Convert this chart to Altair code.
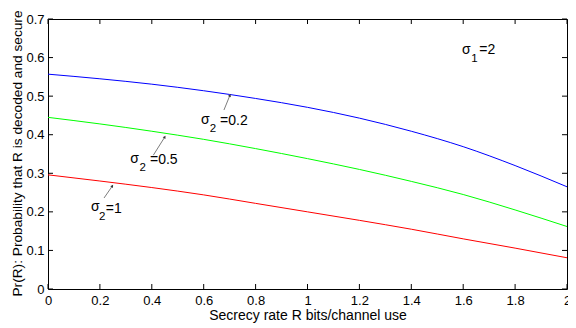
import altair as alt
import pandas as pd

# ---- data ----
rate = [0.0, 0.2, 0.4, 0.6, 0.8, 1.0, 1.2, 1.4, 1.6, 1.8, 2.0]
pr_s02 = [0.557, 0.545, 0.531, 0.514, 0.494, 0.471, 0.443, 0.409, 0.369, 0.320, 0.265]
pr_s05 = [0.445, 0.428, 0.409, 0.388, 0.364, 0.338, 0.310, 0.279, 0.245, 0.205, 0.162]
pr_s1 = [0.296, 0.280, 0.263, 0.244, 0.222, 0.200, 0.178, 0.155, 0.130, 0.106, 0.081]
series_names = ["s02", "s05", "s1"]
series_colors = ["#0000ff", "#00ff00", "#ff0000"]

x_ticks = [0, 0.2, 0.4, 0.6, 0.8, 1.0, 1.2, 1.4, 1.6, 1.8, 2.0]
y_ticks = [0, 0.1, 0.2, 0.3, 0.4, 0.5, 0.6, 0.7]

# annotation texts (sigma, subscript, rest) and their anchors (data coords)
sig_x = [0.590, 0.317, 0.166, 1.595]
sig_y = [0.4265, 0.3254, 0.2022, 0.6093]
sub_txt = ["2", "2", "2", "1"]
sub_x = [0.6235, 0.353, 0.197, 1.631]
sub_y = [0.407, 0.3047, 0.1789, 0.5893]
rest_txt = ["=0.2", "=0.5", "=1", "=2"]
rest_x = [0.663, 0.393, 0.2228, 1.662]
rest_y = [0.4252, 0.3233, 0.1963, 0.6085]

arrow_x = [0.678, 0.406, 0.216]
arrow_y = [0.464, 0.347, 0.236]
arrow_x2 = [0.701, 0.450, 0.248]
arrow_y2 = [0.502, 0.394, 0.267]
arrow_ang = [22, 32, 33]

W, H = 519, 270
FONT = "Liberation Sans"

rows = []
for name, vals in zip(series_names, [pr_s02, pr_s05, pr_s1]):
    for r, v in zip(rate, vals):
        rows.append({"R": r, "P": v, "s": name})
df = pd.DataFrame(rows)

xs = alt.Scale(domain=[0, 2], nice=False, zero=False)
ys = alt.Scale(domain=[0, 0.7], nice=False, zero=False)

x_axis = alt.Axis(values=x_ticks, title="Secrecy rate R bits/channel use",
                  labelExpr="datum.value == 0 ? '0' : format(datum.value, '.1~f')",
                  ticks=False, domain=False, grid=False, labelPadding=5,
                  titleX=W / 2, titleY=30, titleBaseline="alphabetic",
                  labelFlush=False, labelOverlap=False)
y_axis = alt.Axis(values=y_ticks, title="Pr(R): Probability that R is decoded and secure",
                  labelExpr="datum.value == 0 ? '0' : format(datum.value, '.1f')",
                  ticks=False, domain=False, grid=False, labelPadding=4,
                  titleX=-27, titleY=134, titleBaseline="alphabetic", titleAngle=270,
                  titleFontSize=13.7,
                  labelFlush=False, labelOverlap=False)


def X(field):
    return alt.X(field, scale=xs, axis=x_axis)


def Y(field):
    return alt.Y(field, scale=ys, axis=y_axis)


lines = alt.Chart(df).mark_line(strokeWidth=1, interpolate="monotone").encode(
    x=X("R:Q"),
    y=Y("P:Q"),
    color=alt.Color("s:N", scale=alt.Scale(domain=series_names, range=series_colors), legend=None),
)

xt = pd.DataFrame({"v": x_ticks})
yt = pd.DataFrame({"v": y_ticks})
tick_style = dict(color="black", strokeWidth=1)
xb = alt.Chart(xt).mark_rule(**tick_style).encode(x=X("v:Q"), y=alt.value(H), y2=alt.value(H - 5))
xtp = alt.Chart(xt).mark_rule(**tick_style).encode(x=X("v:Q"), y=alt.value(0), y2=alt.value(5))
yl = alt.Chart(yt).mark_rule(**tick_style).encode(y=Y("v:Q"), x=alt.value(0), x2=alt.value(5))
yr = alt.Chart(yt).mark_rule(**tick_style).encode(y=Y("v:Q"), x=alt.value(W), x2=alt.value(W - 5))

ann = pd.DataFrame({"sx": sig_x, "sy": sig_y, "bx": sub_x, "by": sub_y, "bt": sub_txt,
                    "rx": rest_x, "ry": rest_y, "rt": rest_txt})
sig = alt.Chart(ann).mark_text(text="σ", font=FONT, fontSize=14, align="left", baseline="alphabetic",
                               color="black").encode(x=X("sx:Q"), y=Y("sy:Q"))
sub = alt.Chart(ann).mark_text(font=FONT, fontSize=11.5, align="left", baseline="alphabetic",
                               color="black").encode(x=X("bx:Q"), y=Y("by:Q"), text="bt:N")
rest = alt.Chart(ann).mark_text(font=FONT, fontSize=14, align="left", baseline="alphabetic",
                                color="black").encode(x=X("rx:Q"), y=Y("ry:Q"), text="rt:N")

arr = pd.DataFrame({"x": arrow_x, "y": arrow_y, "x2": arrow_x2, "y2": arrow_y2, "a": arrow_ang})
arrow_lines = alt.Chart(arr).mark_rule(color="#444444", strokeWidth=0.7).encode(
    x=X("x:Q"), y=Y("y:Q"), x2="x2:Q", y2="y2:Q")
arrow_heads = alt.Chart(arr).mark_point(shape="triangle-up", filled=True, size=10, color="#333333",
                                        opacity=1).encode(
    x=X("x2:Q"), y=Y("y2:Q"), angle=alt.Angle("a:Q", scale=None))

chart = alt.layer(lines, xb, xtp, yl, yr, arrow_lines, arrow_heads, sig, sub, rest).properties(
    width=W, height=H,
    autosize=alt.AutoSizeParams(type="none"),
    padding={"left": 40, "top": 11, "right": 1, "bottom": 38},
    background="white",
).configure_view(stroke="black", strokeWidth=1).configure_axis(
    labelFont=FONT, labelFontSize=13, labelColor="black", labelOverlap=False,
    titleFont=FONT, titleFontSize=14, titleColor="black", titleFontWeight="normal",
)

chart.save("out.html", embed_options={"renderer": "svg", "actions": False})
